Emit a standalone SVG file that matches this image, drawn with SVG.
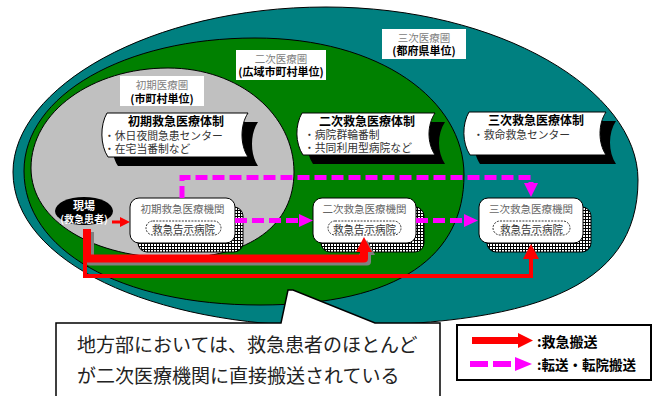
<svg xmlns="http://www.w3.org/2000/svg" width="656" height="396" viewBox="0 0 656 396">
<defs>
<pattern id="chk" width="3" height="3" patternUnits="userSpaceOnUse">
<rect width="3" height="3" fill="#fff"/>
<path d="M0 0.5H3M0.5 0V3" stroke="#000" stroke-width="1"/>
</pattern>
<style>
text{font-family:"Noto Sans CJK JP","Noto Sans",sans-serif;dominant-baseline:central}
.area{stroke:#000;stroke-width:1}
.lblg{fill:#808080;font-size:10.5px;text-anchor:middle}
.lblb{fill:#000;font-size:11px;font-weight:bold;text-anchor:middle}
.ban{fill:#fff;stroke:#000;stroke-width:1}
.banS{fill:#000}
.title{font-size:12px;font-weight:bold;fill:#000;text-anchor:middle}
.bul{font-size:10.8px;fill:#333}
.hos{fill:#fff;stroke:#000;stroke-width:1}
.hosS{fill:url(#chk);stroke:#000;stroke-width:1}
.hlbl{font-size:10.5px;fill:#666;text-anchor:middle}
.pill{fill:#fff;stroke:#000;stroke-width:0.8;stroke-dasharray:2 1.2}
.ptxt{font-size:10.5px;fill:#333;text-anchor:middle}
.mg{fill:none;stroke:#FF00FF;stroke-width:5;stroke-dasharray:12 5}
.mgh{fill:#FF00FF}
.rd{fill:none;stroke:#FF0000}
.rdh{fill:#FF0000}
</style>
</defs>

<g id="areas">
<path class="area" fill="#008080" d="M13,172 C13,88 150,7 326,7 C499,7 638,90 638,180 C638,290 530,326 326,326 C153,326 13,262 13,172 Z"/>
<path class="area" fill="#008000" d="M24,171 C24,95 125,38 255,38 C380,38 464,100 464,175 C464,255 400,305 260,305 C120,305 24,250 24,171 Z"/>
<path class="area" fill="#C0C0C0" d="M31,168 C31,112 92,68 168,68 C240,68 294,115 294,172 C294,225 250,258 175,258 C95,258 31,222 31,168 Z"/>
</g>

<g id="label-primary-area">
<rect x="120" y="76" width="84" height="30" fill="#fff"/>
<text class="lblg" x="162" y="84">初期医療圏</text>
<text class="lblb" x="162" y="98">(市町村単位)</text>
</g>
<g id="label-secondary-area">
<rect x="236" y="50" width="90" height="30" fill="#fff"/>
<text class="lblg" x="281" y="58">二次医療圏</text>
<text class="lblb" x="281" y="71">(広域市町村単位)</text>
</g>
<g id="label-tertiary-area">
<rect x="382" y="29" width="84" height="30" fill="#fff"/>
<text class="lblg" x="424" y="37">三次医療圏</text>
<text class="lblb" x="424" y="50">(都府県単位)</text>
</g>

<g id="system-primary">
<path class="banS" transform="translate(10,9)" d="M107,113 L248,113 C240,125 240,145 248,157 L108,157 C100,145 100,125 107,113 Z"/>
<path class="ban" d="M107,113 L248,113 C240,125 240,145 248,157 L108,157 C100,145 100,125 107,113 Z"/>
<text class="title" x="176" y="120.5">初期救急医療体制</text>
<text class="bul" x="104" y="134.5">・休日夜間急患センター</text>
<text class="bul" x="104" y="147.5">・在宅当番制など</text>
</g>
<g id="system-secondary">
<path class="banS" transform="translate(10,9)" d="M302,113 L435,113 C427,125 427,143 435,155 L303,155 C295,143 295,125 302,113 Z"/>
<path class="ban" d="M302,113 L435,113 C427,125 427,143 435,155 L303,155 C295,143 295,125 302,113 Z"/>
<text class="title" x="367" y="120.5">二次救急医療体制</text>
<text class="bul" x="304" y="134">・病院群輪番制</text>
<text class="bul" x="304" y="147">・共同利用型病院など</text>
</g>
<g id="system-tertiary">
<path class="banS" transform="translate(10,9)" d="M469,112 L606,112 C598,124 598,143 606,155 L470,155 C462,143 462,124 469,112 Z"/>
<path class="ban" d="M469,112 L606,112 C598,124 598,143 606,155 L470,155 C462,143 462,124 469,112 Z"/>
<text class="title" x="536" y="119.5">三次救急医療体制</text>
<text class="bul" x="473" y="133.5">・救命救急センター</text>
</g>

<g id="hospital-primary">
<rect class="hosS" x="138" y="207" width="105" height="45" rx="9"/>
<rect class="hos" x="130" y="198" width="105" height="45" rx="9"/>
<text class="hlbl" x="182.5" y="208.5">初期救急医療機関</text>
<rect class="pill" x="146" y="221" width="75" height="14" rx="7"/>
<text class="ptxt" x="183.5" y="228">救急告示病院</text>
</g>
<g id="hospital-secondary">
<rect class="hosS" x="321" y="207" width="103" height="45" rx="9"/>
<rect class="hos" x="313" y="198" width="103" height="45" rx="9"/>
<text class="hlbl" x="364.5" y="208.5">二次救急医療機関</text>
<rect class="pill" x="328" y="221" width="73" height="14" rx="7"/>
<text class="ptxt" x="364.5" y="228">救急告示病院</text>
</g>
<g id="hospital-tertiary">
<rect class="hosS" x="487" y="207" width="104" height="45" rx="9"/>
<rect class="hos" x="479" y="198" width="104" height="45" rx="9"/>
<text class="hlbl" x="531" y="208.5">三次救急医療機関</text>
<rect class="pill" x="493" y="221" width="77" height="14" rx="7"/>
<text class="ptxt" x="531.5" y="228">救急告示病院</text>
</g>

<g id="scene">
<ellipse cx="84" cy="211" rx="29" ry="14" fill="#000"/>
<text x="84" y="205" fill="#fff" font-size="11" font-weight="bold" text-anchor="middle">現場</text>
<text x="84" y="218" fill="#fff" font-size="10" font-weight="bold" text-anchor="middle">(救急患者)</text>
</g>

<g id="connectors">
<path class="mg" d="M182,198 V177.5 H531 V184"/>
<polygon class="mgh" points="524,183 538,183 531,197"/>
<path class="mg" d="M235,220.5 H300"/>
<polygon class="mgh" points="299,214 299,227 313,220.5"/>
<path class="mg" d="M416,220.5 H465"/>
<polygon class="mgh" points="464,214 464,227 478,220.5"/>

<path class="rd" stroke-width="3" d="M112,222 H121"/>
<polygon class="rdh" points="120,217 120,227 130,222"/>

<g transform="translate(3,3)">
<path fill="none" stroke="#808080" stroke-width="8" stroke-linejoin="round" d="M87,229 V258.5 H364 V250"/>
<polygon fill="#808080" points="356,252 372,252 364,237"/>
</g>
<path class="rd" stroke-width="4" d="M85,229 V276 H531 V258"/>
<polygon class="rdh" points="523,259 539,259 531,244"/>
<path class="rd" stroke-width="8" stroke-linejoin="round" d="M87,229 V258.5 H364 V250"/>
<polygon class="rdh" points="356,252 372,252 364,237"/>
</g>

<g id="callout">
<polygon points="56,323 281,323 288,290 293,290 375,323 440,323 440,398 56,398" fill="#fff" stroke="#000" stroke-width="1.5"/>
<text x="77" y="343" font-size="19" fill="#222">地方部においては、救急患者のほとんど</text>
<text x="77" y="374" font-size="19" fill="#222">が二次医療機関に直接搬送されている</text>
</g>

<g id="legend">
<rect x="457" y="325" width="194" height="55" fill="#fff" stroke="#000" stroke-width="2"/>
<path class="rd" stroke-width="7" d="M472,340.5 H519"/>
<polygon class="rdh" points="518,333 518,348 533,340.5"/>
<text x="537" y="341" font-size="14" font-weight="bold" fill="#000">:救急搬送</text>
<path fill="none" stroke="#FF00FF" stroke-width="6" stroke-dasharray="18 5" d="M470,364 H512"/>
<polygon class="mgh" points="515,357 515,371 532,364"/>
<text x="537" y="364" font-size="13.5" font-weight="bold" fill="#000">:転送・転院搬送</text>
</g>
</svg>
